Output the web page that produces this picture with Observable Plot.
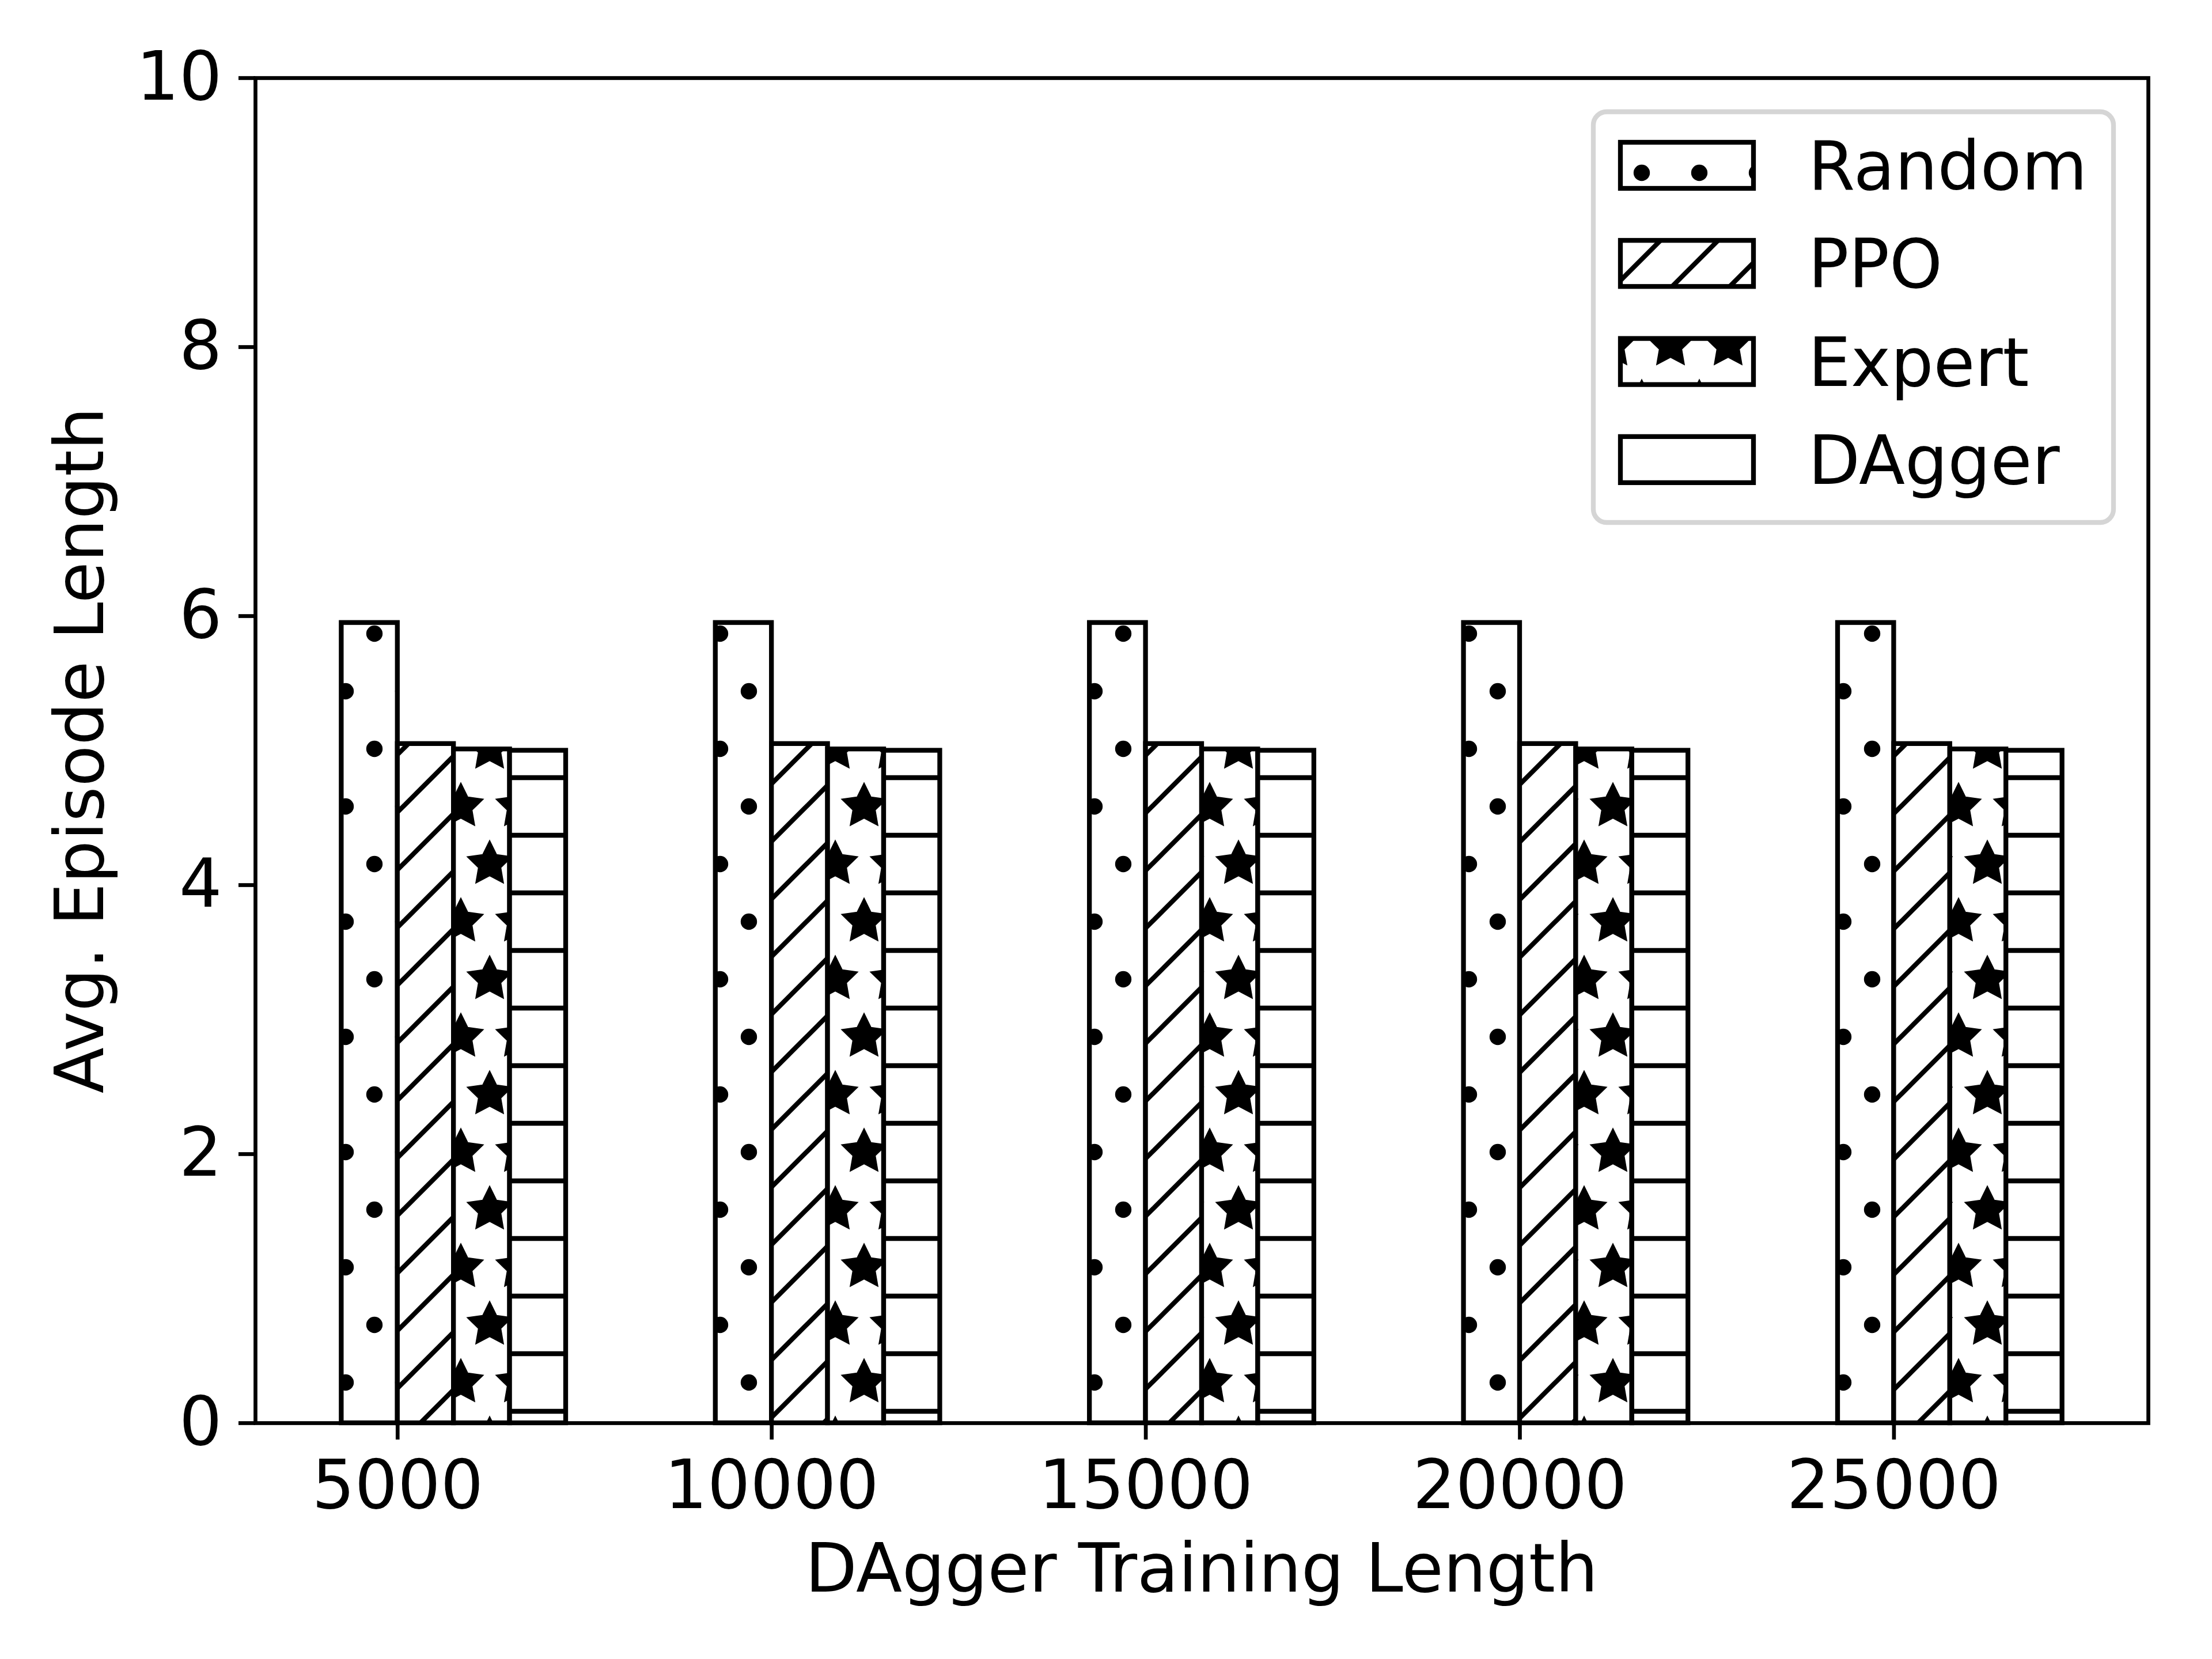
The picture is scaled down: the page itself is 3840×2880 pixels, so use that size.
<!DOCTYPE html>
<html>
<head>
<meta charset="utf-8">
<script src="https://cdn.jsdelivr.net/npm/d3@7"></script>
<script src="https://cdn.jsdelivr.net/npm/@observablehq/plot@0.6"></script>
<style>
  html, body { margin: 0; padding: 0; background: white; overflow: hidden; }
  #chart svg { display: block; }
</style>
</head>
<body>
<div id="chart"></div>
<script>
// ---- data ----
const categories = ["5000", "10000", "15000", "20000", "25000"];
const seriesNames = ["Random", "PPO", "Expert", "DAgger"];
const randomValues = [5.95, 5.95, 5.95, 5.95, 5.95];
const ppoValues    = [5.05, 5.05, 5.05, 5.05, 5.05];
const expertValues = [5.01, 5.01, 5.01, 5.01, 5.01];
const daggerValues = [5.00, 5.00, 5.00, 5.00, 5.00];
const yTicks = [0, 2, 4, 6, 8, 10];
const xLabel = "DAgger Training Length";
const yLabel = "Avg. Episode Length";

// ---- layout / style ----
const W = 3840, H = 2880;
const FONT = "DejaVu Sans";
const FS = 117;            // 14pt @ 600dpi
const barW = 0.15;
const edgeW = 8.3;         // 1pt
const spineW = 6.67;       // 0.8pt
const hatchW = 8.3;
const patternIds = ["hatch-dots", "hatch-diag", "hatch-stars", "hatch-horiz"];
const seriesValues = [randomValues, ppoValues, expertValues, daggerValues];
const frameL = 443, frameR = 3729, frameT = 135, frameB = 2470;

const n = categories.length;
const span = (n - 1) + 4 * barW;
const pad = 0.05 * span;
const xDomain = [-barW - pad, (n - 1) + 3 * barW + pad];

const barMarks = seriesNames.map((name, k) => {
  const rows = categories.map((c, i) => ({i, value: seriesValues[k][i]}));
  const off = (k - 1) * barW;
  return Plot.rectY(rows, {
    x1: d => d.i + off,
    x2: d => d.i + off + barW,
    y1: 0,
    y2: d => d.value,
    fill: `url(#${patternIds[k]})`,
    stroke: "black",
    strokeWidth: edgeW
  });
});

const plot = Plot.plot({
  width: W,
  height: H,
  marginLeft: frameL,
  marginRight: W - frameR,
  marginTop: frameT,
  marginBottom: H - frameB,
  style: {fontFamily: FONT, fontSize: FS + "px", background: "white", color: "black", overflow: "visible"},
  x: {type: "linear", domain: xDomain},
  y: {type: "linear", domain: [0, 10]},
  marks: [
    ...barMarks,
    Plot.frame({stroke: "black", strokeWidth: spineW}),
    Plot.axisY({ticks: yTicks, tickSize: 29, tickPadding: 29, strokeWidth: spineW, fontSize: FS, label: null, tickFormat: d => String(d)}),
    Plot.axisX({ticks: d3.range(n), tickSize: 29, tickPadding: 35, strokeWidth: spineW, fontSize: FS, label: null, tickFormat: i => categories[i]})
  ]
});

document.getElementById("chart").appendChild(plot);

const svg = d3.select(plot);

// ---- axis titles ----
svg.append("text")
  .attr("x", (frameL + frameR) / 2).attr("y", 2763)
  .attr("text-anchor", "middle")
  .attr("font-family", FONT).attr("font-size", FS).attr("fill", "black")
  .text(xLabel);
svg.append("text")
  .attr("transform", `translate(179,${(frameT + frameB) / 2}) rotate(-90)`)
  .attr("text-anchor", "middle")
  .attr("font-family", FONT).attr("font-size", FS).attr("fill", "black")
  .text(yLabel);

// ---- hatch patterns (anchored to figure pixel grid, like matplotlib) ----
const defs = svg.insert("defs", ":first-child");

function starPath(cx, cy, R, r) {
  const pts = [];
  for (let k = 0; k < 10; k++) {
    const a = (-90 + k * 36) * Math.PI / 180;
    const rad = k % 2 === 0 ? R : r;
    pts.push([cx + rad * Math.cos(a), cy + rad * Math.sin(a)]);
  }
  return "M" + pts.map(p => p[0].toFixed(2) + "," + p[1].toFixed(2)).join("L") + "Z";
}
const gridPts = [[0, 0], [100, 0], [0, 200], [100, 200], [50, 100]];

// dots
{
  const p = defs.append("pattern").attr("id", patternIds[0]).attr("patternUnits", "userSpaceOnUse")
    .attr("x", 0).attr("y", 0).attr("width", 100).attr("height", 200);
  p.append("rect").attr("width", 100).attr("height", 200).attr("fill", "white");
  gridPts.forEach(([cx, cy]) => p.append("circle").attr("cx", cx).attr("cy", cy).attr("r", 14.2).attr("fill", "black"));
}
// diagonal ("//")
{
  const p = defs.append("pattern").attr("id", patternIds[1]).attr("patternUnits", "userSpaceOnUse")
    .attr("x", 0).attr("y", 0).attr("width", 100).attr("height", 100);
  p.append("rect").attr("width", 100).attr("height", 100).attr("fill", "white");
  [[-20, 20, 20, -20], [-10, 110, 110, -10], [80, 120, 120, 80]].forEach(([x1, y1, x2, y2]) =>
    p.append("line").attr("x1", x1).attr("y1", y1).attr("x2", x2).attr("y2", y2)
      .attr("stroke", "black").attr("stroke-width", hatchW));
}
// stars
{
  const p = defs.append("pattern").attr("id", patternIds[2]).attr("patternUnits", "userSpaceOnUse")
    .attr("x", 0).attr("y", 0).attr("width", 100).attr("height", 200);
  p.append("rect").attr("width", 100).attr("height", 200).attr("fill", "white");
  gridPts.forEach(([cx, cy]) => p.append("path").attr("d", starPath(cx, cy, 100 / 3, 100 / 6))
    .attr("fill", "black").attr("stroke", "black").attr("stroke-width", hatchW).attr("stroke-linejoin", "miter"));
}
// horizontal
{
  const p = defs.append("pattern").attr("id", patternIds[3]).attr("patternUnits", "userSpaceOnUse")
    .attr("x", 0).attr("y", 0).attr("width", 100).attr("height", 100);
  p.append("rect").attr("width", 100).attr("height", 100).attr("fill", "white");
  p.append("line").attr("x1", -5).attr("y1", 50).attr("x2", 105).attr("y2", 50)
    .attr("stroke", "black").attr("stroke-width", hatchW);
}

// ---- legend ----
const lg = svg.append("g").attr("class", "legend");
lg.append("rect").attr("x", 2766).attr("y", 194).attr("width", 903).attr("height", 713)
  .attr("rx", 23).attr("ry", 23)
  .attr("fill", "white").attr("fill-opacity", 0.8)
  .attr("stroke", "#d5d5d5").attr("stroke-width", 8.3);
const rowY0 = 287, rowPitch = 170.3;
seriesNames.forEach((name, k) => {
  const cy = rowY0 + k * rowPitch;
  lg.append("rect").attr("x", 2813).attr("y", cy - 40).attr("width", 231).attr("height", 80)
    .attr("fill", `url(#${patternIds[k]})`).attr("stroke", "black").attr("stroke-width", edgeW);
  lg.append("text").attr("x", 3139).attr("y", cy + 42)
    .attr("text-anchor", "start")
    .attr("font-family", FONT).attr("font-size", FS).attr("fill", "black").text(name);
});
</script>
</body>
</html>
